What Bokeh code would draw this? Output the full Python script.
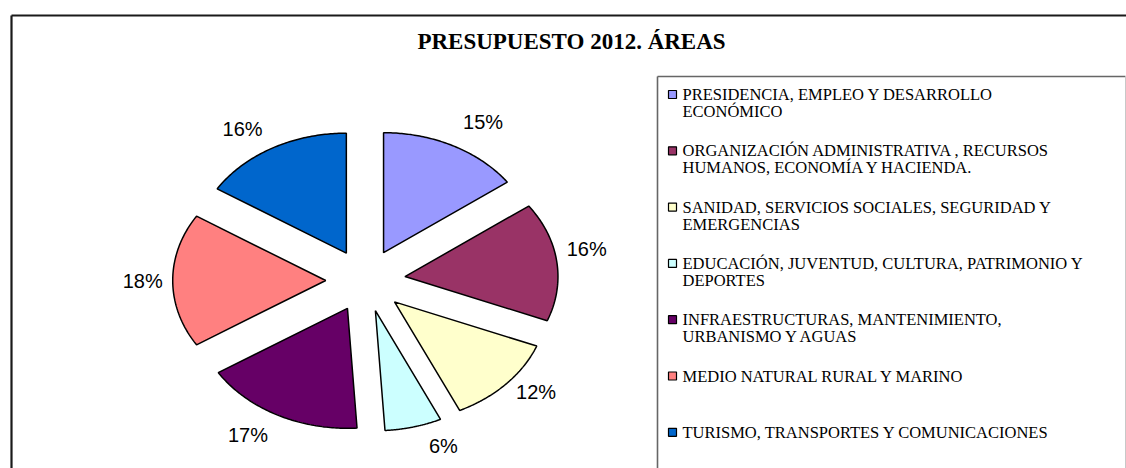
import numpy as np
from bokeh.plotting import figure
from bokeh.models import Range1d
from bokeh.embed import file_html
from bokeh.resources import INLINE
from bokeh.core.properties import value

# ---------------- data ----------------
title_text = "PRESUPUESTO 2012. ÁREAS"
categories = [
    "PRESIDENCIA, EMPLEO Y DESARROLLO\nECONÓMICO",
    "ORGANIZACIÓN ADMINISTRATIVA , RECURSOS\nHUMANOS, ECONOMÍA Y HACIENDA.",
    "SANIDAD, SERVICIOS SOCIALES, SEGURIDAD Y\nEMERGENCIAS",
    "EDUCACIÓN, JUVENTUD, CULTURA, PATRIMONIO Y\nDEPORTES",
    "INFRAESTRUCTURAS, MANTENIMIENTO,\nURBANISMO Y AGUAS",
    "MEDIO NATURAL RURAL Y MARINO",
    "TURISMO, TRANSPORTES Y COMUNICACIONES",
]
shares = [15, 16, 12, 6, 17, 18, 16]
colors = ["#9999FF", "#993366", "#FFFFCC", "#CCFFFF", "#660066", "#FF8080", "#0066CC"]

# ---------------- layout ----------------
W, H = 1126, 468
cx, cy, rx, ry = 365, 280, 153, 120   # pie centre and radii (px)
explode = 0.26                       # explosion (fraction of radius)

p = figure(width=W, height=H, x_range=Range1d(0, W), y_range=Range1d(H, 0),
           output_backend="svg", toolbar_location=None, min_border=0,
           x_axis_location=None, y_axis_location=None)
p.grid.visible = False
p.outline_line_color = None
p.background_fill_color = "white"
p.border_fill_color = "white"

# frame lines
p.segment(x0=[11, 11], y0=[15, 15], x1=[W + 5, 11], y1=[15, H + 5],
          line_color="#1a1a1a", line_width=2.2)
p.segment(x0=[657, 657], y0=[76, 76], x1=[1125, 657], y1=[76, H + 5],
          line_color="#666666", line_width=1.6)
p.segment(x0=[1125], y0=[76], x1=[1125], y1=[H + 5], line_color="#c8c8c8", line_width=1)

# title
p.text(x=[571], y=[41], text=[title_text], text_align="center", text_baseline="middle",
       text_font=value("Liberation Serif"), text_font_style="bold",
       text_font_size="23px", text_color="black")

# pie slices
frac = np.array(shares, dtype=float) / sum(shares)
ends = np.cumsum(frac) * 2 * np.pi
starts = ends - frac * 2 * np.pi
mids = (starts + ends) / 2
xs, ys = [], []
for a0, a1, m in zip(starts, ends, mids):
    ox, oy = explode * np.sin(m), explode * np.cos(m)
    t = np.linspace(a0, a1, 80)
    px = np.concatenate([[ox], ox + np.sin(t), [ox]])
    py = np.concatenate([[oy], oy + np.cos(t), [oy]])
    xs.append(list(cx + rx * px))
    ys.append(list(cy - ry * py))
p.patches(xs, ys, fill_color=colors, line_color="black", line_width=1.5)

# percentage labels
s, c = np.sin(mids), np.cos(mids)
lx = cx + rx * (1 + explode) * s + 30 * np.sign(s)
ly = cy - ry * (1 + explode) * c - 22 * c - 10 * np.clip(s, 0, None)
p.text(x=list(lx), y=list(ly), text=[f"{v}%" for v in shares],
       text_align="center", text_baseline="middle",
       text_font=value("Liberation Sans"), text_font_size="20px", text_color="black")

# legend
item_y0, item_dy, line_dy = 94, 56.3, 17
sq_x, txt_x = 672, 682
item_y = [item_y0 + i * item_dy for i in range(len(categories))]
p.rect(x=[sq_x] * len(categories), y=item_y, width=8, height=8,
       fill_color=colors, line_color="black", line_width=1.2)
tx, ty, tt = [], [], []
for yy, cat in zip(item_y, categories):
    for j, line in enumerate(cat.split("\n")):
        tx.append(txt_x)
        ty.append(yy + j * line_dy)
        tt.append(line)
p.text(x=tx, y=ty, text=tt, text_align="left", text_baseline="middle",
       text_font=value("Liberation Serif"), text_font_size="16.5px", text_color="black")

open("out.html", "w").write(file_html(p, INLINE))
